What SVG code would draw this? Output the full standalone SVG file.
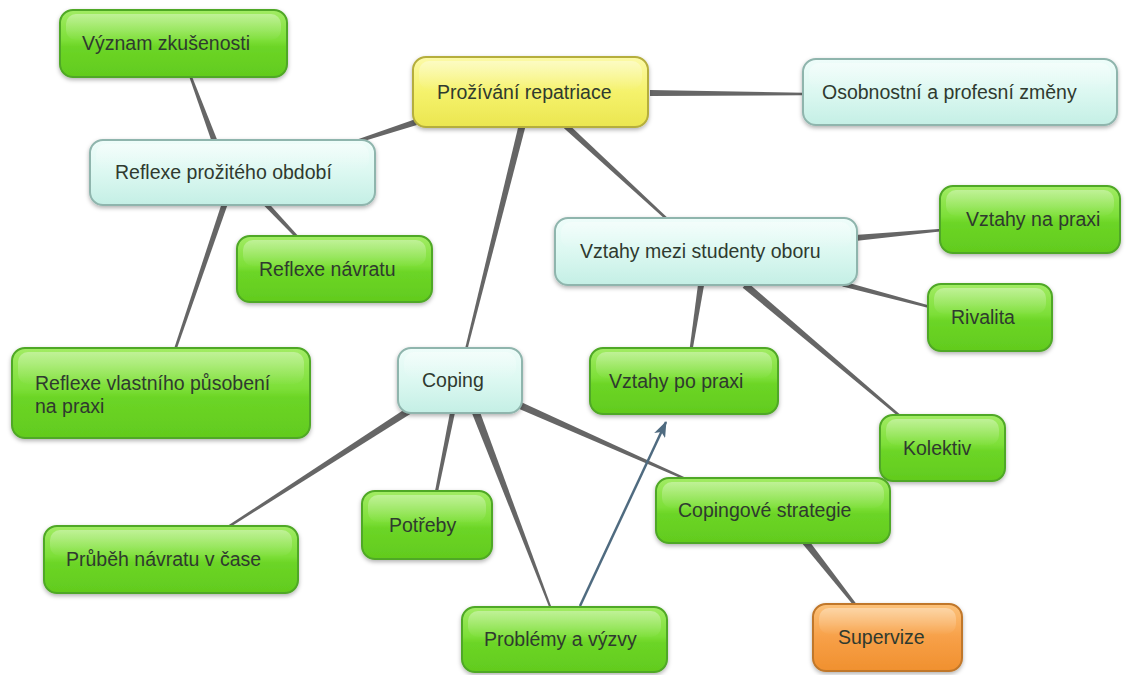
<svg xmlns="http://www.w3.org/2000/svg" width="1136" height="675" viewBox="0 0 1136 675">
<defs>
<linearGradient id="gGreen" x1="0" y1="0" x2="0" y2="1">
<stop offset="0" stop-color="#a2ec64"/><stop offset="0.45" stop-color="#7ddf38"/><stop offset="0.55" stop-color="#6cd526"/><stop offset="1" stop-color="#62cb1e"/>
</linearGradient>
<linearGradient id="gTeal" x1="0" y1="0" x2="0" y2="1">
<stop offset="0" stop-color="#effdfa"/><stop offset="0.5" stop-color="#dcf8f1"/><stop offset="1" stop-color="#c4efe5"/>
</linearGradient>
<linearGradient id="gYellow" x1="0" y1="0" x2="0" y2="1">
<stop offset="0" stop-color="#fcfaa8"/><stop offset="0.5" stop-color="#f5f26c"/><stop offset="1" stop-color="#ebe650"/>
</linearGradient>
<linearGradient id="gOrange" x1="0" y1="0" x2="0" y2="1">
<stop offset="0" stop-color="#fcc27a"/><stop offset="0.5" stop-color="#f7a048"/><stop offset="1" stop-color="#f0902e"/>
</linearGradient>
<linearGradient id="gGloss" x1="0" y1="0" x2="0" y2="1">
<stop offset="0" stop-color="#ffffff" stop-opacity="0.35"/><stop offset="1" stop-color="#ffffff" stop-opacity="0.02"/>
</linearGradient>
<filter id="shadow" x="-10%" y="-20%" width="120%" height="150%">
<feDropShadow dx="0" dy="2" stdDeviation="2" flood-color="#000" flood-opacity="0.3"/>
</filter>
<marker id="arrow" viewBox="0 0 16 12" refX="15" refY="6" markerWidth="16" markerHeight="12" markerUnits="userSpaceOnUse" orient="auto">
<path d="M0,0 L16,6 L0,12 L4,6 Z" fill="#4f6b80"/>
</marker>
<style>
.box{stroke-width:2;filter:url(#shadow)}
.green{fill:url(#gGreen);stroke:#4fa825}
.teal{fill:url(#gTeal);stroke:#8fb5ad}
.yellow{fill:url(#gYellow);stroke:#b5ae3c}
.orange{fill:url(#gOrange);stroke:#c0772a}
.gloss{fill:url(#gGloss)}
.lbl{font-family:"Liberation Sans",Arial,sans-serif;font-size:19.5px;fill:#2f3a2f}
.conn{fill:#666666}
</style>
</defs>
<rect width="1136" height="675" fill="#ffffff"/>
<g id="connectors">
<polygon class="conn" points="218.8,144 191.2,74.6 188.8,75.4 213.2,146"/>
<polygon class="conn" points="415.1,119.2 351.5,141.6 352.5,144.4 416.9,124.9"/>
<polygon class="conn" points="650,96 804,95.25 804,92.75 650,90"/>
<polygon class="conn" points="518.6,125.15 464.8,349.7 467.2,350.3 525.4,126.85"/>
<polygon class="conn" points="564,128.2 667.2,220.9 668.8,219.1 568,123.8"/>
<polygon class="conn" points="222.2,202 173.8,349.6 176.2,350.4 227.8,204"/>
<polygon class="conn" points="263.2,204.7 296.9,239 299.1,237 266.8,201.3"/>
<polygon class="conn" points="855.3,241 942.1,231.2 941.9,228.8 854.7,235"/>
<polygon class="conn" points="842.4,286.4 929.7,308.2 930.3,305.8 843.6,281.6"/>
<polygon class="conn" points="698,284.5 689.5,349.8 692.5,350.2 704,285.5"/>
<polygon class="conn" points="742.7,287.7 900.2,418 901.8,416 747.3,282.3"/>
<polygon class="conn" points="408.1,407.1 227.3,526 228.7,528 411.9,412.9"/>
<polygon class="conn" points="450.55,409.5 434.5,493.7 437.5,494.3 455.45,410.5"/>
<polygon class="conn" points="471.3,411.4 550.1,609.4 551.9,608.6 478.7,408.6"/>
<polygon class="conn" points="517.6,408.2 687.5,481.1 688.5,478.9 520.4,401.8"/>
<polygon class="conn" points="801.25,542.2 854.8,606.9 857.2,605.1 806.75,537.8"/>
<line x1="580" y1="606" x2="666" y2="422" stroke="#4f6b80" stroke-width="2.5" marker-end="url(#arrow)"/>
</g>
<g id="n-vyznam">
<rect class="box green" x="60" y="10" width="227" height="67" rx="13"/>
<rect class="gloss" x="66" y="14" width="215" height="26" rx="10"/>
<text class="lbl" x="82" y="50">Význam zkušenosti</text>
</g>
<g id="n-prozivani">
<rect class="box yellow" x="413" y="57" width="235" height="70" rx="13"/>
<rect class="gloss" x="419" y="61" width="223" height="28" rx="10"/>
<text class="lbl" x="437" y="99">Prožívání repatriace</text>
</g>
<g id="n-osobnostni">
<rect class="box teal" x="803" y="59" width="314" height="66" rx="13"/>
<rect class="gloss" x="809" y="63" width="302" height="26" rx="10"/>
<text class="lbl" x="822" y="99">Osobnostní a profesní změny</text>
</g>
<g id="n-reflexe-obdobi">
<rect class="box teal" x="90" y="140" width="285" height="65" rx="13"/>
<rect class="gloss" x="96" y="144" width="273" height="26" rx="10"/>
<text class="lbl" x="115" y="179">Reflexe prožitého období</text>
</g>
<g id="n-reflexe-navratu">
<rect class="box green" x="237" y="236" width="195" height="66" rx="13"/>
<rect class="gloss" x="243" y="240" width="183" height="26" rx="10"/>
<text class="lbl" x="259" y="276">Reflexe návratu</text>
</g>
<g id="n-vztahy-mezi">
<rect class="box teal" x="555" y="218" width="302" height="67" rx="13"/>
<rect class="gloss" x="561" y="222" width="290" height="26" rx="10"/>
<text class="lbl" x="580" y="258">Vztahy mezi studenty oboru</text>
</g>
<g id="n-vztahy-na">
<rect class="box green" x="940" y="186" width="180" height="67" rx="13"/>
<rect class="gloss" x="946" y="190" width="168" height="26" rx="10"/>
<text class="lbl" x="966" y="226">Vztahy na praxi</text>
</g>
<g id="n-rivalita">
<rect class="box green" x="928" y="284" width="124" height="67" rx="13"/>
<rect class="gloss" x="934" y="288" width="112" height="26" rx="10"/>
<text class="lbl" x="951" y="324">Rivalita</text>
</g>
<g id="n-vztahy-po">
<rect class="box green" x="590" y="348" width="188" height="66" rx="13"/>
<rect class="gloss" x="596" y="352" width="176" height="26" rx="10"/>
<text class="lbl" x="609" y="388">Vztahy po praxi</text>
</g>
<g id="n-kolektiv">
<rect class="box green" x="880" y="415" width="125" height="66" rx="13"/>
<rect class="gloss" x="886" y="419" width="113" height="26" rx="10"/>
<text class="lbl" x="903" y="455">Kolektiv</text>
</g>
<g id="n-coping">
<rect class="box teal" x="398" y="348" width="124" height="65" rx="13"/>
<rect class="gloss" x="404" y="352" width="112" height="26" rx="10"/>
<text class="lbl" x="422" y="387">Coping</text>
</g>
<g id="n-reflexe-vlastniho">
<rect class="box green" x="12" y="348" width="298" height="90" rx="13"/>
<rect class="gloss" x="18" y="352" width="286" height="32" rx="10"/>
<text class="lbl" x="35" y="390">Reflexe vlastního působení</text>
<text class="lbl" x="35" y="413">na praxi</text>
</g>
<g id="n-potreby">
<rect class="box green" x="362" y="491" width="130" height="68" rx="13"/>
<rect class="gloss" x="368" y="495" width="118" height="27" rx="10"/>
<text class="lbl" x="389" y="532">Potřeby</text>
</g>
<g id="n-prubeh">
<rect class="box green" x="44" y="526" width="254" height="67" rx="13"/>
<rect class="gloss" x="50" y="530" width="242" height="26" rx="10"/>
<text class="lbl" x="66" y="566">Průběh návratu v čase</text>
</g>
<g id="n-copingove">
<rect class="box green" x="656" y="478" width="234" height="65" rx="13"/>
<rect class="gloss" x="662" y="482" width="222" height="26" rx="10"/>
<text class="lbl" x="678" y="517">Copingové strategie</text>
</g>
<g id="n-problemy">
<rect class="box green" x="462" y="607" width="205" height="65" rx="13"/>
<rect class="gloss" x="468" y="611" width="193" height="26" rx="10"/>
<text class="lbl" x="484" y="646">Problémy a výzvy</text>
</g>
<g id="n-supervize">
<rect class="box orange" x="813" y="604" width="149" height="67" rx="13"/>
<rect class="gloss" x="819" y="608" width="137" height="26" rx="10"/>
<text class="lbl" x="838" y="644">Supervize</text>
</g>
</svg>
